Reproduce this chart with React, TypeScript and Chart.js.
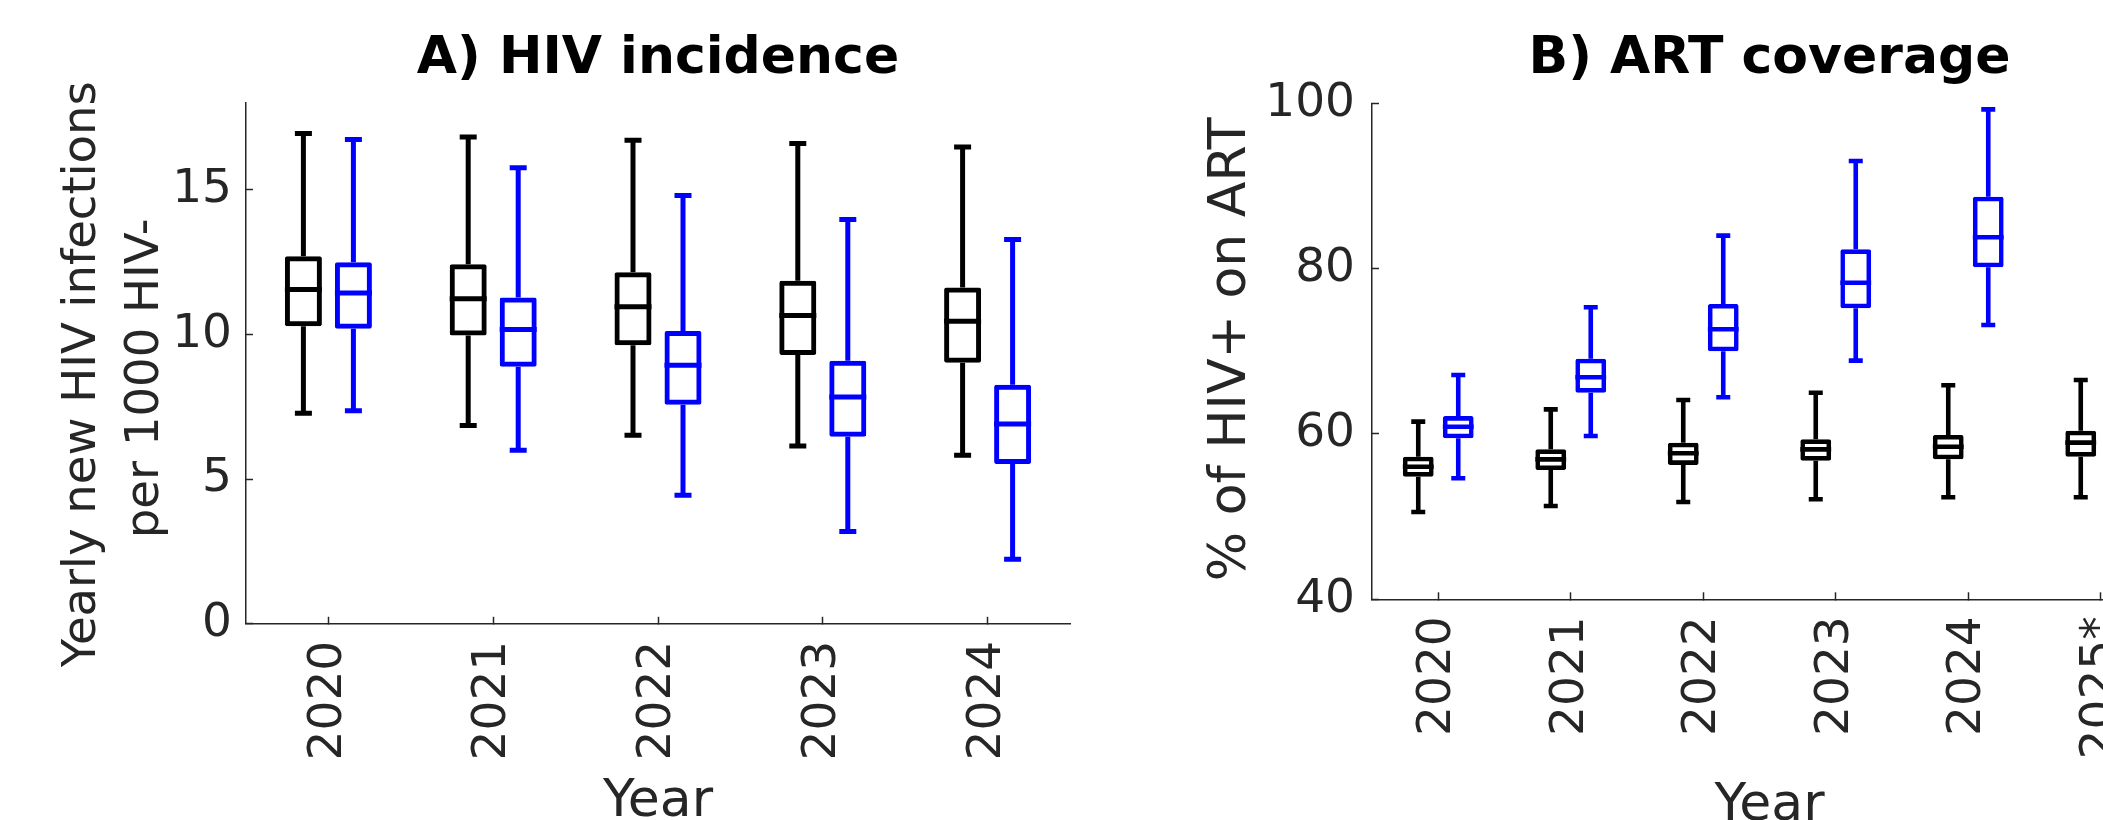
import React, { useEffect, useRef } from 'react';
import { Chart, registerables } from 'chart.js';

Chart.register(...registerables);
Chart.defaults.font.family = '"DejaVu Sans", sans-serif';
Chart.defaults.color = '#262626';

// ---------- Panel A: HIV incidence (per 1000 HIV-) ----------
const incYears = ['2020', '2021', '2022', '2023', '2024'];
const incYTicks = [0, 5, 10, 15];
// black series
const incBaseMin = [7.27, 6.85, 6.51, 6.14, 5.82];
const incBaseQ1 = [10.28, 9.96, 9.62, 9.29, 9.02];
const incBaseMed = [11.55, 11.23, 10.95, 10.65, 10.45];
const incBaseQ3 = [12.7, 12.42, 12.15, 11.85, 11.62];
const incBaseMax = [16.94, 16.82, 16.71, 16.59, 16.47];
// blue series
const incIntMin = [7.36, 6.0, 4.44, 3.19, 2.23];
const incIntQ1 = [10.19, 8.88, 7.57, 6.46, 5.52];
const incIntMed = [11.43, 10.17, 8.93, 7.84, 6.9];
const incIntQ3 = [12.49, 11.27, 10.12, 9.09, 8.26];
const incIntMax = [16.73, 15.76, 14.8, 13.97, 13.28];

// ---------- Panel B: ART coverage (% of HIV+) ----------
const artYears = ['2020', '2021', '2022', '2023', '2024', '2025*'];
const artYTicks = [40, 60, 80, 100];
// black series
const artBaseMin = [50.56, 51.29, 51.77, 52.1, 52.34, 52.34];
const artBaseQ1 = [54.83, 55.64, 56.25, 56.77, 56.93, 57.25];
const artBaseMed = [56.04, 56.93, 57.66, 58.14, 58.46, 58.95];
const artBaseQ3 = [57.25, 58.14, 58.95, 59.35, 59.88, 60.4];
const artBaseMax = [61.49, 62.98, 64.11, 64.99, 65.89, 66.53];
// blue series
const artIntMin = [54.64, 59.76, 64.44, 68.87, 73.18, null];
const artIntQ1 = [59.47, 65.0, 70.0, 75.2, 80.16, null];
const artIntMed = [60.88, 66.86, 72.66, 78.3, 83.79, null];
const artIntQ3 = [62.17, 69.11, 75.72, 82.34, 88.7, null];
const artIntMax = [67.13, 75.32, 83.99, 93.02, 99.27, null];

type Num = number | null;
type Box = { min: Num[]; q1: Num[]; med: Num[]; q3: Num[]; max: Num[]; color: string };

const BLACK = '#000000';
const BLUE = '#0000ff';
const AXIS = '#262626';

function whiskerPlugin(series: Box[], lw: number, capW: number) {
  return {
    id: 'whiskers',
    afterDatasetsDraw(chart: any) {
      const ctx = chart.ctx;
      const ys = chart.scales.y;
      ctx.save();
      ctx.lineWidth = lw;
      ctx.lineCap = 'butt';
      series.forEach((s, d) => {
        const meta = chart.getDatasetMeta(d);
        meta.data.forEach((el: any, i: number) => {
          const med = s.med[i];
          if (med == null) return;
          const x = el.x;
          const w = el.width;
          const yMed = ys.getPixelForValue(med);
          const yQ1 = ys.getPixelForValue(s.q1[i] as number);
          const yQ3 = ys.getPixelForValue(s.q3[i] as number);
          const yMin = ys.getPixelForValue(s.min[i] as number);
          const yMax = ys.getPixelForValue(s.max[i] as number);
          ctx.strokeStyle = s.color;
          ctx.beginPath();
          ctx.moveTo(x - w / 2, yMed);
          ctx.lineTo(x + w / 2, yMed);
          ctx.moveTo(x, yQ3);
          ctx.lineTo(x, yMax);
          ctx.moveTo(x - capW / 2, yMax);
          ctx.lineTo(x + capW / 2, yMax);
          ctx.moveTo(x, yQ1);
          ctx.lineTo(x, yMin);
          ctx.moveTo(x - capW / 2, yMin);
          ctx.lineTo(x + capW / 2, yMin);
          ctx.stroke();
        });
      });
      ctx.restore();
    },
  };
}

function yLabelPlugin(lines: string[], xs: number[], dys: number[], size: number) {
  return {
    id: 'yLabel',
    afterDraw(chart: any) {
      const { ctx, chartArea } = chart;
      const cy = (chartArea.top + chartArea.bottom) / 2;
      ctx.save();
      ctx.font = `${size}px "DejaVu Sans"`;
      ctx.fillStyle = AXIS;
      ctx.textAlign = 'center';
      ctx.textBaseline = 'alphabetic';
      lines.forEach((line, k) => {
        ctx.save();
        ctx.translate(xs[k], cy + dys[k]);
        ctx.rotate(-Math.PI / 2);
        ctx.fillText(line, 0, 0);
        ctx.restore();
      });
      ctx.restore();
    },
  };
}

const CW = 1110;
const CH = 900;

type PanelSpec = {
  labels: string[];
  series: Box[];
  yMin: number;
  yMax: number;
  yTicks: number[];
  title: string;
  yLines: string[];
  yLineX: number[];
  yLineDy: number[];
  yLabelSize: number;
  top: number;
  bottom: number;
  left: number;
  right: number;
  lw: number;
  capW: number;
  catPct: number;
  barPct: number;
  yTickPad: number;
  xTitleMid: number;
};

function makeConfig(p: PanelSpec): any {
  const titleLH = 52 * 1.2;
  const titleTop = 27.8;
  const titleBottom = p.top - titleLH - titleTop;
  const xTitleLH = 52 * 1.2;
  return {
    type: 'bar',
    data: {
      labels: p.labels,
      datasets: p.series.map((s) => ({
        data: s.q1.map((v, i) => (v == null || s.q3[i] == null ? null : [v, s.q3[i]])),
        backgroundColor: 'rgba(0,0,0,0)',
        borderColor: s.color,
        borderWidth: p.lw,
        borderSkipped: false,
        borderRadius: 2,
        categoryPercentage: p.catPct,
        barPercentage: p.barPct,
      })),
    },
    options: {
      responsive: false,
      animation: false,
      devicePixelRatio: 1,
      layout: { padding: { left: 0, top: 0, bottom: 0, right: CW - p.right } },
      plugins: {
        legend: { display: false },
        tooltip: { enabled: false },
        title: {
          display: true,
          text: p.title,
          color: '#000000',
          fullSize: false,
          font: { family: '"DejaVu Sans"', size: 52, weight: 'bold', lineHeight: 1.2 },
          padding: { top: titleTop, bottom: titleBottom },
        },
      },
      scales: {
        x: {
          type: 'category',
          offset: true,
          grid: {
            offset: false,
            drawOnChartArea: false,
            drawTicks: true,
            tickLength: -7,
            color: AXIS,
            tickColor: AXIS,
            tickWidth: 1.5,
          },
          border: { display: true, color: AXIS, width: 1.5 },
          ticks: {
            color: AXIS,
            font: { size: 47 },
            minRotation: 90,
            maxRotation: 90,
            autoSkip: false,
            padding: 24,
          },
          title: {
            display: true,
            text: 'Year',
            color: AXIS,
            font: { size: 52, lineHeight: 1.2 },
            padding: { top: 0, bottom: CH - xTitleLH / 2 - p.xTitleMid },
          },
          afterFit: (s: any) => {
            s.height = CH - p.bottom;
          },
        },
        y: {
          type: 'linear',
          min: p.yMin,
          max: p.yMax,
          grid: {
            drawOnChartArea: false,
            drawTicks: true,
            tickLength: -7,
            color: AXIS,
            tickColor: AXIS,
            tickWidth: 1.5,
          },
          border: { display: true, color: AXIS, width: 1.5 },
          ticks: {
            color: AXIS,
            font: { size: 47 },
            padding: p.yTickPad,
          },
          afterBuildTicks: (s: any) => {
            s.ticks = p.yTicks.map((v) => ({ value: v }));
          },
          afterFit: (s: any) => {
            s.width = p.left;
          },
        },
      },
    },
    plugins: [
      whiskerPlugin(p.series, p.lw, p.capW),
      yLabelPlugin(p.yLines, p.yLineX, p.yLineDy, p.yLabelSize),
    ],
  };
}

const panelA: PanelSpec = {
  labels: incYears,
  series: [
    { min: incBaseMin, q1: incBaseQ1, med: incBaseMed, q3: incBaseQ3, max: incBaseMax, color: BLACK },
    { min: incIntMin, q1: incIntQ1, med: incIntMed, q3: incIntQ3, max: incIntMax, color: BLUE },
  ],
  yMin: 0,
  yMax: 18,
  yTicks: incYTicks,
  title: 'A) HIV incidence',
  yLines: ['Yearly new HIV infections', 'per 1000 HIV-'],
  yLineX: [95, 157.5],
  yLineDy: [11, 15],
  yLabelSize: 46.5,
  top: 102.8,
  bottom: 623.8,
  left: 246,
  right: 1070,
  lw: 5,
  capW: 17,
  catPct: 100 / 164.8,
  barPct: 0.74,
  yTickPad: 21,
  xTitleMid: 802,
};

const panelB: PanelSpec = {
  labels: artYears,
  series: [
    { min: artBaseMin, q1: artBaseQ1, med: artBaseMed, q3: artBaseQ3, max: artBaseMax, color: BLACK },
    { min: artIntMin, q1: artIntQ1, med: artIntMed, q3: artIntQ3, max: artIntMax, color: BLUE },
  ],
  yMin: 40,
  yMax: 100,
  yTicks: artYTicks,
  title: 'B) ART coverage',
  yLines: ['% of HIV+ on ART'],
  yLineX: [135],
  yLineDy: [-2],
  yLabelSize: 52,
  top: 103.3,
  bottom: 599.3,
  left: 262,
  right: 1057,
  lw: 4.6,
  capW: 14,
  catPct: 80 / 132.5,
  barPct: 0.77,
  yTickPad: 24,
  xTitleMid: 806,
};

function Panel({ spec, x }: { spec: PanelSpec; x: number }) {
  const ref = useRef<HTMLCanvasElement>(null);
  useEffect(() => {
    if (!ref.current) return;
    const chart = new Chart(ref.current, makeConfig(spec));
    return () => chart.destroy();
  }, []);
  return (
    <canvas
      ref={ref}
      width={CW}
      height={CH}
      style={{ position: 'absolute', left: x, top: 0, width: CW, height: CH, display: 'block' }}
    />
  );
}

export default function App() {
  return (
    <div
      style={{
        position: 'fixed',
        left: 0,
        top: 0,
        width: 2103,
        height: 820,
        overflow: 'hidden',
        background: '#ffffff',
      }}
    >
      <Panel spec={panelA} x={0} />
      <Panel spec={panelB} x={1110} />
    </div>
  );
}
